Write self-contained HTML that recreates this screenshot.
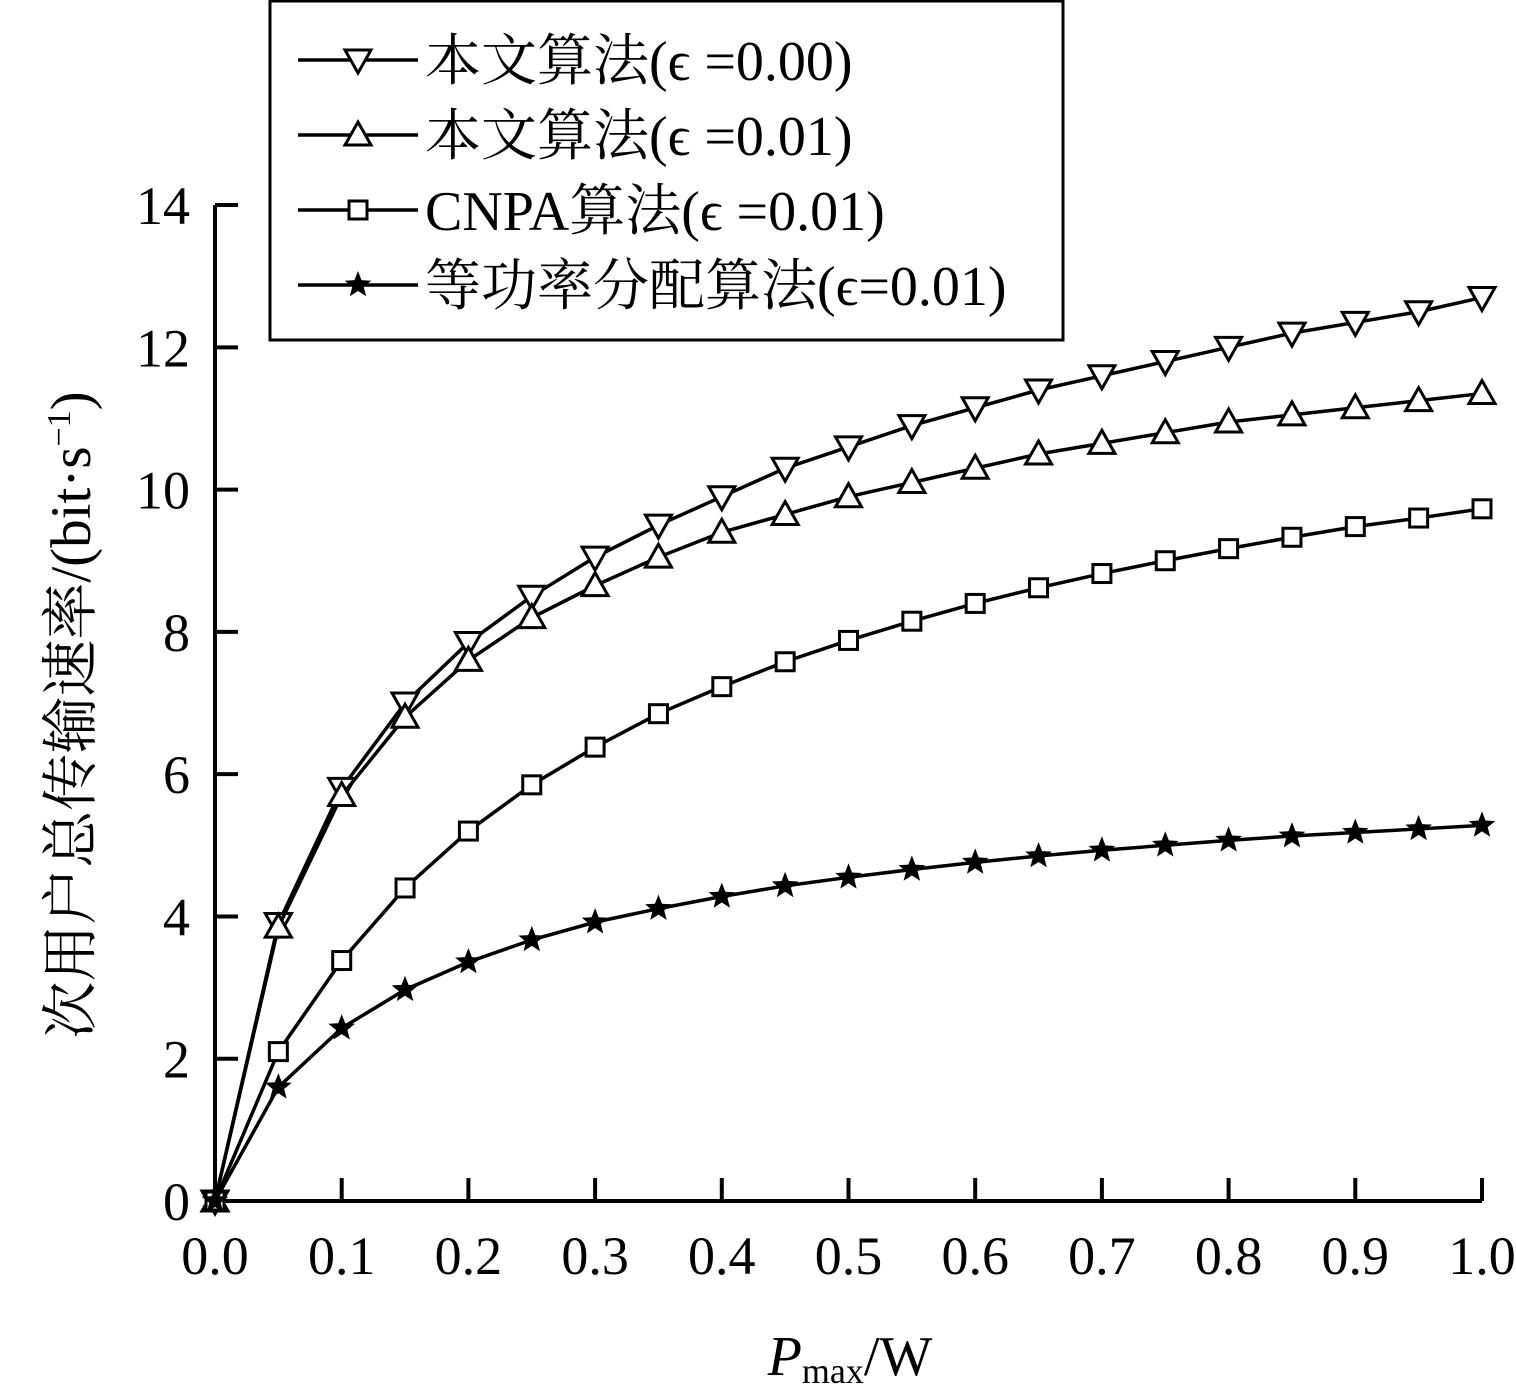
<!DOCTYPE html>
<html><head><meta charset="utf-8"><style>
html,body{margin:0;padding:0;background:#fff;}
svg{display:block;font-family:"Liberation Serif","Noto Serif CJK SC",serif;}
</style></head><body>
<svg id="chart" width="1516" height="1385" viewBox="0 0 1516 1385" xmlns="http://www.w3.org/2000/svg">
<g id="axes"></g>
<g id="series"></g>
<g id="legend">
<rect x="270" y="1" width="793" height="339" fill="#fff" stroke="#000" stroke-width="3"/>
</g>
<text transform="translate(90,715) rotate(-90)" text-anchor="middle" font-size="57">次用户总传输速率/(bit·s<tspan font-size="34" dy="-20">−1</tspan><tspan dy="20">)</tspan></text>
<text x="850" y="1375" text-anchor="middle" font-size="56"><tspan font-style="italic">P</tspan><tspan font-size="36" dy="8">max</tspan><tspan dy="-8">/W</tspan></text>
</svg>
<script>
const xValues=[0,0.05,0.1,0.15,0.2,0.25,0.3,0.35,0.4,0.45,0.5,0.55,0.6,0.65,0.7,0.75,0.8,0.85,0.9,0.95,1.0];
const seriesEps000=[0,3.9,5.8,7.0,7.85,8.5,9.05,9.5,9.9,10.3,10.6,10.9,11.15,11.4,11.6,11.8,12.0,12.2,12.35,12.5,12.7];
const seriesEps001=[0,3.85,5.7,6.8,7.6,8.2,8.65,9.05,9.4,9.65,9.9,10.1,10.3,10.5,10.65,10.8,10.95,11.05,11.15,11.25,11.35];
const seriesCNPA=[0,2.1,3.38,4.4,5.2,5.85,6.38,6.85,7.23,7.58,7.88,8.15,8.4,8.62,8.82,9.0,9.17,9.33,9.48,9.6,9.73];
const seriesEqual=[0,1.6,2.43,2.97,3.36,3.67,3.92,4.11,4.28,4.43,4.55,4.66,4.76,4.85,4.93,5.0,5.07,5.13,5.18,5.23,5.28];
const xTicks=[0,0.1,0.2,0.3,0.4,0.5,0.6,0.7,0.8,0.9,1.0];
const yTicks=[0,2,4,6,8,10,12,14];
const legendLabels=["本文算法(ϵ =0.00)","本文算法(ϵ =0.01)","CNPA算法(ϵ =0.01)","等功率分配算法(ϵ=0.01)"];
const NS="http://www.w3.org/2000/svg";
const X=v=>215+v*1267;
const Y=v=>1201-v*71.14;
function mk(tag,attrs,parent){const e=document.createElementNS(NS,tag);for(const k in attrs)e.setAttribute(k,attrs[k]);parent.appendChild(e);return e;}
const axes=document.getElementById('axes');
let a=mk('path',{d:`M${X(0)} ${Y(14)}V${Y(0)}H${X(1)}`,fill:'none',stroke:'#000','stroke-width':4},axes);


xTicks.forEach(t=>{
 const l=mk('line',{x1:X(t),x2:X(t),y1:Y(0),y2:Y(0)-23,stroke:'#000','stroke-width':4},axes);
 
 
 const tx=mk('text',{x:X(t),y:1274,'text-anchor':'middle','font-size':54},axes);
 
 
 tx.textContent=t.toFixed(1);
});
yTicks.forEach(t=>{
 const l=mk('line',{x1:X(0),x2:X(0)+23,y1:Y(t),y2:Y(t),stroke:'#000','stroke-width':4},axes);
 
 
 const tx=mk('text',{x:190,y:Y(t)+19,'text-anchor':'end','font-size':54},axes);
 
 
 tx.textContent=t;
});
function marker(type,cx,cy,g){
 let e;
 if(type==='down'){e=mk('path',{d:`M${cx-13} ${cy-10}H${cx+13}L${cx} ${cy+13}Z`,fill:'#fff',stroke:'#000','stroke-width':3},g);}
 else if(type==='up'){e=mk('path',{d:`M${cx-13} ${cy+10}H${cx+13}L${cx} ${cy-13}Z`,fill:'#fff',stroke:'#000','stroke-width':3},g);}
 else if(type==='square'){e=mk('rect',{x:cx-9,y:cy-9,width:18,height:18,fill:'#fff',stroke:'#000','stroke-width':3},g);}
 else{let p='';for(let i=0;i<10;i++){const r=i%2?6:14;const an=-Math.PI/2+i*Math.PI/5;p+=(i?'L':'M')+(cx+r*Math.cos(an)).toFixed(1)+' '+(cy+r*Math.sin(an)).toFixed(1);}e=mk('path',{d:p+'Z',fill:'#000'},g);}
 
 
}
const sg=document.getElementById('series');
const all=[[seriesEps000,'down','series-eps-0-00'],[seriesEps001,'up','series-eps-0-01'],[seriesCNPA,'square','series-cnpa'],[seriesEqual,'star','series-equal-power']];
all.forEach(([vals,type,name])=>{
 const g=mk('g',{},sg);
 
 
 const pl=mk('polyline',{points:vals.map((v,i)=>X(xValues[i])+','+Y(v)).join(' '),fill:'none',stroke:'#000','stroke-width':3.5},g);
 
 
 vals.forEach((v,i)=>marker(type,X(xValues[i]),Y(v),g));
});
const lg=document.getElementById('legend');
all.forEach(([vals,type,name],i)=>{
 const y=60+i*75;
 const g=mk('g',{},lg);
 
 
 const l=mk('line',{x1:298,x2:418,y1:y,y2:y,stroke:'#000','stroke-width':3.5},g);
 
 
 marker(type,358,y,g);
 const t=mk('text',{x:425,y:y+20,'font-size':56},g);
 
 
 t.textContent=legendLabels[i];
});
</script>
</body></html>
